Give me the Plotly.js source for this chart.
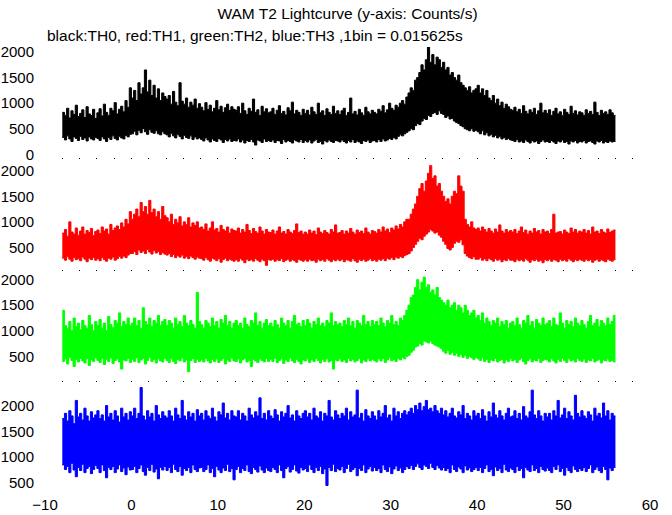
<!DOCTYPE html>
<html><head><meta charset="utf-8">
<script src="https://cdn.plot.ly/plotly-3.0.1.min.js"></script>
<style>html,body{margin:0;padding:0;background:#fff}#chart{width:672px;height:515px}</style>
</head><body><div id="chart"></div>
<script>
// Envelope (min / max) of each lightcurve, one sample per 0.25 s (16 bins of 0.015625 s)
const T_START = -8;
const SAMPLE_STEP = 0.25;

const th0_hi = [
820,760,900,710,850,780,960,740,800,870,720,930,790,760,880,700,
810,890,750,980,820,760,900,850,1010,790,880,940,830,1050,920,1300,
1100,1250,1050,1400,1180,1300,1650,1220,1450,1150,1350,1100,1280,1050,1200,1130,
1080,1150,980,1230,1020,950,1400,1040,980,1100,920,1020,960,1080,900,990,
920,850,1010,880,960,830,900,1050,870,940,820,910,980,860,930,880,
860,930,800,1000,850,780,900,840,1080,820,870,760,940,830,890,810,
830,900,780,860,950,800,840,770,910,850,1020,790,860,820,760,880,
800,860,770,920,830,780,1000,810,850,760,890,820,780,940,800,850,
780,850,900,760,820,1100,790,840,770,880,810,760,920,830,790,860,
820,790,880,840,950,810,870,1000,900,860,960,920,1000,1050,980,1120,
1200,1300,1250,1450,1500,1600,1750,1650,1850,2100,1800,1950,1750,1900,1850,1700,
1800,1650,1700,1550,1600,1500,1450,1550,1400,1350,1300,1250,1320,1200,1250,1280,
1350,1200,1280,1150,1250,1100,1050,1150,1000,1080,950,1020,900,980,930,880,
860,920,830,880,800,950,840,790,870,820,900,780,850,1000,810,860,
800,870,760,840,900,790,830,760,880,820,780,940,800,850,770,830,
810,760,870,800,840,780,1020,820,760,860,800,830,780,870,810,760];
const th0_lo = [
330,280,360,300,250,340,310,270,350,290,320,260,340,300,280,330,
310,270,340,300,250,330,290,360,310,280,350,320,300,370,340,390,
400,450,380,470,420,500,440,390,480,430,410,460,400,380,440,400,
380,340,410,360,320,390,350,300,370,330,310,360,290,340,300,320,
290,260,320,280,240,300,270,250,310,280,230,290,260,300,250,270,
260,300,240,280,220,270,250,290,240,180,280,260,230,300,250,270,
250,280,230,270,260,210,290,240,270,250,220,280,260,240,290,230,
270,240,280,220,260,290,230,250,200,270,240,280,250,230,270,260,
240,280,250,220,270,240,290,230,260,240,210,270,250,280,230,260,
270,240,290,250,300,260,280,310,290,330,300,350,380,360,400,430,
460,500,480,560,600,580,650,700,680,760,740,800,820,780,850,800,
780,720,750,690,700,650,620,600,560,540,500,480,460,500,450,470,
440,400,460,380,420,360,390,340,370,320,350,300,330,290,310,280,
270,250,290,240,260,230,280,250,220,270,240,260,210,250,280,240,
250,230,270,240,210,260,240,280,230,250,200,260,240,270,220,250,
240,270,220,250,260,230,200,260,240,270,220,250,230,260,240,250];

const th1_hi = [
780,850,720,1000,800,760,880,740,820,900,760,830,790,870,730,810,
840,770,900,820,860,760,950,830,880,920,850,980,900,1050,960,1200,
1050,1150,1250,1100,1380,1200,1300,1150,1420,1180,1250,1100,1200,1050,1300,1120,
1080,1000,1150,950,1050,980,1100,920,1000,950,1080,900,980,930,1000,880,
900,850,960,820,880,1000,840,870,800,930,850,820,900,780,860,830,
820,880,780,850,800,950,830,770,870,810,780,900,820,760,850,800,
790,840,760,820,900,780,810,760,850,800,770,830,960,790,820,760,
800,760,840,780,820,750,880,800,770,830,790,760,850,800,940,780,
790,830,760,820,780,870,800,760,840,790,820,770,880,800,760,830,
810,780,850,800,900,820,860,790,880,840,920,860,950,900,1000,1050,
1050,1150,1250,1350,1500,1650,1750,1600,1800,1950,2100,1850,1900,1700,1750,1600,
1500,1400,1450,1350,1500,1600,1550,1900,1700,1600,1050,950,900,1000,880,850,
880,820,900,850,800,870,820,780,860,800,940,820,780,850,800,830,
800,850,770,820,900,790,840,760,820,780,870,800,830,760,850,800,
820,770,850,1150,780,800,810,760,840,800,770,880,800,850,780,820,
800,850,780,830,760,900,800,820,770,850,800,780,860,790,820,840];
const th1_lo = [
290,250,320,270,230,300,260,280,240,310,270,220,290,260,300,250,
280,240,300,260,230,290,270,310,250,280,320,290,330,300,350,380,
380,420,360,450,400,430,380,460,410,370,440,390,420,360,400,370,
350,380,320,360,300,340,310,350,290,320,280,330,300,270,310,290,
280,250,300,260,230,290,270,240,280,210,260,290,240,270,250,230,
260,230,280,250,200,270,240,260,230,280,250,220,270,240,150,260,
250,270,230,260,240,280,220,250,270,230,260,240,210,270,250,230,
260,230,270,240,250,210,270,240,260,230,280,250,220,260,240,270,
240,270,220,260,250,230,280,240,210,260,240,270,230,250,280,240,
260,230,270,250,280,240,290,270,300,260,310,290,320,300,340,360,
380,430,500,560,620,680,650,720,760,800,850,820,780,800,740,700,
620,560,480,450,500,580,620,600,650,550,380,330,300,280,320,270,
270,300,250,280,240,290,260,230,280,250,270,220,260,240,280,250,
250,220,270,240,260,230,280,250,210,260,240,270,230,250,200,260,
240,270,230,260,250,220,270,240,260,230,280,250,220,260,240,270,
250,230,270,240,260,210,250,270,230,260,240,220,270,250,230,260];

const th2_hi = [
1400,1100,1050,1180,1000,1250,1080,1150,1020,1200,1100,1050,1300,1120,1000,1180,
1100,1220,1050,1150,1000,1280,1120,1060,1200,1150,1350,1080,1180,1120,1250,1100,
1150,1250,1100,1200,1050,1450,1180,1120,1250,1080,1200,1150,1300,1100,1180,1220,
1100,1200,1150,1050,1250,1120,1180,1080,1300,1150,1100,1200,1120,1050,1750,1180,
1120,1050,1200,1150,1080,1250,1100,1180,1050,1220,1150,1300,1100,1180,1050,1150,
1200,1100,1150,1050,1250,1120,1080,1200,1150,1350,1100,1180,1050,1150,1220,1100,
1150,1080,1200,1120,1050,1250,1150,1100,1200,1050,1180,1300,1120,1150,1080,1200,
1100,1220,1150,1050,1180,1120,1250,1100,1150,1080,1200,1150,1350,1100,1180,1120,
1150,1080,1200,1120,1250,1100,1180,1050,1200,1150,1100,1300,1120,1180,1080,1200,
1120,1180,1100,1250,1150,1080,1200,1150,1300,1120,1180,1100,1250,1200,1300,1400,
1500,1650,1700,1850,2000,1800,1950,2050,1850,1900,1750,1800,1700,1850,1650,1600,
1550,1500,1600,1450,1500,1550,1400,1500,1450,1350,1500,1400,1300,1350,1400,1250,
1300,1200,1350,1150,1250,1180,1100,1200,1150,1250,1080,1180,1120,1200,1050,1150,
1180,1100,1250,1120,1050,1200,1150,1300,1100,1180,1050,1220,1150,1100,1250,1120,
1150,1200,1080,1250,1120,1100,1350,1150,1050,1200,1120,1180,1080,1250,1150,1100,
1200,1120,1050,1180,1300,1100,1150,1220,1080,1200,1150,1100,1250,1120,1180,1300];
const th2_lo = [
400,450,350,480,420,300,440,390,460,410,370,450,320,430,400,470,
420,380,460,340,440,400,470,360,420,450,390,250,430,410,460,380,
440,400,470,380,430,460,350,420,480,400,440,370,450,410,390,460,
420,380,450,400,360,440,410,470,390,430,200,420,460,380,440,400,
430,390,460,410,370,440,400,450,380,420,460,350,430,400,470,410,
400,450,370,430,460,390,420,300,440,410,380,450,420,390,460,400,
440,400,460,380,420,450,360,430,400,470,410,380,440,400,350,430,
410,450,380,430,400,460,420,370,440,400,450,390,420,250,430,410,
450,400,430,380,460,410,440,390,420,460,370,430,400,450,410,440,
420,390,450,410,460,380,430,470,410,440,400,460,430,480,450,500,
520,580,620,680,700,750,720,800,780,760,800,750,720,700,680,650,
600,560,620,540,580,520,560,500,540,480,520,460,500,470,440,480,
450,420,470,400,440,380,430,410,460,390,420,440,370,430,400,450,
410,440,380,430,460,400,350,420,450,390,430,410,460,380,420,440,
430,390,450,410,370,440,400,460,420,380,450,410,430,390,460,420,
400,450,380,430,410,460,390,420,440,370,430,410,450,400,420,390];

const th3_hi = [
1750,1850,1700,1900,1800,1650,2100,1780,1850,1720,1950,1800,1700,1880,1760,1820,
1900,1750,1820,1700,2000,1780,1850,1720,1900,1800,1680,1950,1780,1850,1720,1880,
1800,1950,1750,1850,2350,1800,1720,1900,1780,1850,1700,2000,1820,1750,1880,1800,
1760,1900,1800,1700,1950,1820,1750,2100,1800,1720,1880,1780,1850,1700,1920,1800,
1850,1720,1900,1800,1750,1950,1780,1700,1880,1820,2050,1760,1850,1720,1900,1800,
1780,1900,1720,1850,1800,1700,1950,1820,1760,1880,1800,2150,1750,1850,1720,1900,
1800,1750,1920,1820,1700,1880,1780,1850,2000,1760,1820,1700,1900,1800,1750,1850,
1900,1780,1850,1720,1950,1800,1760,1880,1700,1850,1800,2100,1780,1720,1900,1820,
1750,1850,1800,1950,1720,1880,1780,1820,2300,1760,1850,1700,1920,1800,1750,1880,
1800,1720,1900,1780,1850,2000,1760,1820,1700,1950,1800,1880,1750,1850,1900,1820,
1880,1950,1850,2000,1920,2050,1900,1980,2100,1920,1950,1880,2000,1900,1850,1950,
1820,1900,1780,1850,1950,1800,1760,1880,1820,2000,1750,1850,1800,1720,1900,1800,
1850,1750,1920,1800,1700,1880,1780,2050,1820,1760,1900,1800,1720,1850,1950,1780,
1800,1900,1750,1850,1720,1980,1800,1760,1880,2300,1820,1750,1900,1800,1700,1850,
1780,1850,1720,1900,1800,2100,1760,1820,1950,1750,1880,1800,1720,2200,1850,1780,
1900,1800,1750,1880,1820,1700,1950,1800,1850,1760,2050,1800,1900,1720,1850,1800];
const th3_lo = [
850,760,820,700,880,750,620,800,740,860,700,780,820,680,760,840,
780,700,850,740,600,800,760,820,700,770,850,720,790,660,810,750,
760,820,700,780,850,720,650,800,740,860,710,770,580,800,750,820,
740,800,700,860,760,720,820,650,780,740,800,700,850,760,720,790,
800,720,760,850,700,780,620,820,750,700,790,740,860,720,780,560,
760,820,700,780,740,850,720,680,800,760,710,830,750,700,790,740,
720,800,760,700,850,740,600,780,820,710,760,850,730,690,800,750,
780,720,850,760,700,800,740,820,680,770,450,800,740,860,720,780,
750,820,700,780,860,720,760,800,640,780,740,850,700,770,820,730,
800,740,780,700,850,760,720,810,680,770,830,740,790,700,760,820,
780,840,760,820,870,800,760,850,820,780,880,800,760,840,790,750,
800,740,780,700,850,760,720,810,770,700,830,750,790,720,760,800,
740,800,700,780,850,720,760,640,810,740,780,700,860,750,720,790,
760,700,820,740,780,600,800,750,720,850,740,780,700,820,760,730,
790,740,700,820,760,850,720,780,650,800,740,700,830,760,720,780,
740,800,720,780,850,700,760,810,740,700,820,760,560,790,740,800];

const seriesHi = [th0_hi, th1_hi, th2_hi, th3_hi];
const seriesLo = [th0_lo, th1_lo, th2_lo, th3_lo];
const seriesColors = ['#000000', '#ff0000', '#00ff00', '#0000ff'];
const panelRanges = [[-88, 2099], [48, 2235], [-8, 2180], [285, 2453]];
const xTickVals = [-10, 0, 10, 20, 30, 40, 50, 60];
const yTicksTop = [0, 500, 1000, 1500, 2000];
const yTicksOther = [500, 1000, 1500, 2000];
const titleText = 'WAM T2 Lightcurve (y-axis: Counts/s)';
const subtitleText = 'black:TH0, red:TH1, green:TH2, blue:TH3 ,1bin = 0.015625s';

const FONT = 'Liberation Sans, Arial, Helvetica, sans-serif';

function stepped(arr) {
  const x = [], y = [];
  for (let i = 0; i < arr.length; i++) { x.push(T_START + i * SAMPLE_STEP); y.push(arr[i]); }
  x.push(T_START + arr.length * SAMPLE_STEP); y.push(arr[arr.length - 1]);
  return {x, y};
}

const traces = [];
const layout = {
  width: 672, height: 515,
  margin: {l: 45, r: 22, t: 47, b: 21},
  paper_bgcolor: '#ffffff', plot_bgcolor: '#ffffff',
  showlegend: false,
  font: {family: FONT, size: 15, color: '#000'},
  title: {text: titleText, font: {family: FONT, size: 15.5, color: '#000'},
          x: 0.5, xref: 'paper', y: 1 - 14 / 515, yref: 'container', yanchor: 'middle'},
  annotations: [{text: subtitleText, xref: 'paper', yref: 'paper', x: 0, y: 1 + 12 / 447,
                 xanchor: 'left', yanchor: 'middle', showarrow: false,
                 font: {family: FONT, size: 15.5, color: '#000'}}]
};

for (let k = 0; k < 4; k++) {
  const xa = k === 0 ? 'x' : 'x' + (k + 1);
  const ya = k === 0 ? 'y' : 'y' + (k + 1);
  const lo = stepped(seriesLo[k]);
  const hi = stepped(seriesHi[k]);
  traces.push({x: lo.x, y: lo.y, xaxis: xa, yaxis: ya, mode: 'lines',
               line: {shape: 'hv', width: 1, color: seriesColors[k]}, hoverinfo: 'skip'});
  traces.push({x: hi.x, y: hi.y, xaxis: xa, yaxis: ya, mode: 'lines', fill: 'tonexty',
               fillcolor: seriesColors[k],
               line: {shape: 'hv', width: 1, color: seriesColors[k]}, hoverinfo: 'skip'});

  const top = 1 - k * 0.25;
  const isBottom = k === 3;
  layout[k === 0 ? 'yaxis' : 'yaxis' + (k + 1)] = {
    domain: [top - 0.25, top], anchor: xa, range: panelRanges[k],
    tickmode: 'array', tickvals: k === 0 ? yTicksTop : yTicksOther,
    ticks: '', showline: false, showgrid: false, zeroline: false,
    ticklabelstandoff: 10, tickfont: {family: FONT, size: 15, color: '#000'}
  };
  layout[k === 0 ? 'xaxis' : 'xaxis' + (k + 1)] = {
    domain: [0, 1], anchor: ya, range: [-10, 60],
    tickmode: 'array', tickvals: xTickVals,
    showticklabels: isBottom, showline: false, showgrid: false, zeroline: false,
    ticks: isBottom ? '' : 'inside', ticklen: 1, tickwidth: 1, tickcolor: '#000',
    minor: isBottom ? undefined : {dtick: 2, tick0: 0, ticks: 'inside', ticklen: 1, tickwidth: 1, tickcolor: '#000'},
    tickfont: {family: FONT, size: 15, color: '#000'}
  };
}

Plotly.newPlot('chart', traces, layout, {staticPlot: true, displayModeBar: false});
</script>
</body></html>
